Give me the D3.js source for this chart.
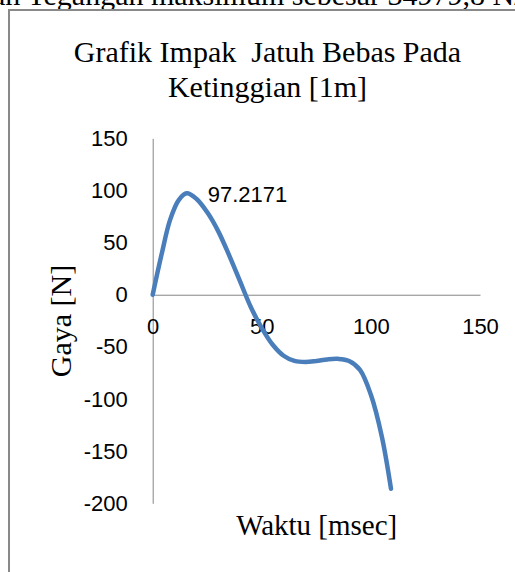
<!DOCTYPE html>
<html>
<head>
<meta charset="utf-8">
<script src="https://cdn.jsdelivr.net/npm/d3@7"></script>
<style>
  html, body { margin: 0; padding: 0; background: #fff; }
  svg { display: block; }
</style>
</head>
<body>
<svg id="chart" width="515" height="572"></svg>
<script>
// ---- data ----
const timeMs = [0, 4, 8, 12, 15.6, 20, 25, 30, 35, 40, 45, 50, 55, 60, 65, 70, 75, 80, 85, 90, 95, 100, 105, 109.2];
const forceN = [0, 38, 72, 91, 97.2171, 92, 79, 61, 38, 13, -12, -32, -48, -58.5, -63.5, -64.5, -63.5, -62, -61.5, -63.5, -72, -96, -136, -186];
const xTicks = [0, 50, 100, 150];
const yTicks = [150, 100, 50, 0, -50, -100, -150, -200];
const peakLabel = "97.2171";
const titleLines = ["Grafik Impak  Jatuh Bebas Pada", "Ketinggian [1m]"];
const xTitle = "Waktu [msec]";
const yTitle = "Gaya [N]";
const topText = "an Tegangan maksimum sebesar 34979,8 N/m²";

const svg = d3.select("#chart");
const serif = "'Liberation Serif', 'Times New Roman', serif";
const sans = "'Liberation Sans', Arial, sans-serif";

// cut-off document text above the chart
svg.append("text")
  .attr("x", -8).attr("y", 5)
  .attr("font-family", serif).attr("font-size", 30)
  .attr("fill", "#000")
  .text(topText);

// chart frame (only left/top visible)
svg.append("rect")
  .attr("x", 9).attr("y", 10)
  .attr("width", 600).attr("height", 700)
  .attr("fill", "#fff")
  .attr("stroke", "#898989").attr("stroke-width", 2);

const x = d3.scaleLinear().domain([0, 150]).range([152.7, 480]);
const y = d3.scaleLinear().domain([-200, 150]).range([503.3, 138.3]);

// title
svg.append("g").selectAll("text").data(titleLines).join("text")
  .attr("x", 267.5).attr("y", (d, i) => 61.7 + i * 35)
  .attr("text-anchor", "middle")
  .attr("font-family", serif).attr("font-size", 30)
  .style("white-space", "pre")
  .attr("fill", "#000")
  .text(d => d);

// y axis
const yAxis = d3.axisLeft(y).tickValues(yTicks).tickSize(0).tickPadding(25).tickFormat(d => String(d));
const gy = svg.append("g").attr("transform", `translate(${x(0)},0)`).call(yAxis);
gy.select(".domain").attr("stroke", "#868686").attr("stroke-width", 1);
gy.selectAll("text").attr("font-family", sans).attr("font-size", 22).attr("fill", "#000");

// x axis
const xAxis = d3.axisBottom(x).tickValues(xTicks).tickSize(0).tickPadding(24).tickFormat(d => String(d));
const gx = svg.append("g").attr("transform", `translate(0,${y(0)})`).call(xAxis);
gx.select(".domain").attr("stroke", "#868686").attr("stroke-width", 1);
gx.selectAll("text").attr("font-family", sans).attr("font-size", 22).attr("fill", "#000");

// line
const data = timeMs.map((t, i) => ({ t, v: forceN[i] }));
const line = d3.line().x(d => x(d.t)).y(d => y(d.v)).curve(d3.curveCatmullRom.alpha(0.5));
svg.append("path").datum(data)
  .attr("d", line)
  .attr("fill", "none")
  .attr("stroke", "#4a7ebb")
  .attr("stroke-width", 4.5)
  .attr("stroke-linecap", "round")
  .attr("stroke-linejoin", "round");

// data label for peak
const peakIdx = forceN.indexOf(d3.max(forceN));
svg.append("text")
  .attr("x", x(timeMs[peakIdx]) + 21).attr("y", y(forceN[peakIdx]) + 9)
  .attr("font-family", sans).attr("font-size", 22).attr("fill", "#000")
  .text(peakLabel);

// axis titles
svg.append("text")
  .attr("transform", "translate(71,321) rotate(-90)")
  .attr("text-anchor", "middle")
  .attr("font-family", serif).attr("font-size", 30).attr("fill", "#000")
  .text(yTitle);

svg.append("text")
  .attr("x", 316.7).attr("y", 535)
  .attr("text-anchor", "middle")
  .attr("font-family", serif).attr("font-size", 29).attr("fill", "#000")
  .text(xTitle);
</script>
</body>
</html>
